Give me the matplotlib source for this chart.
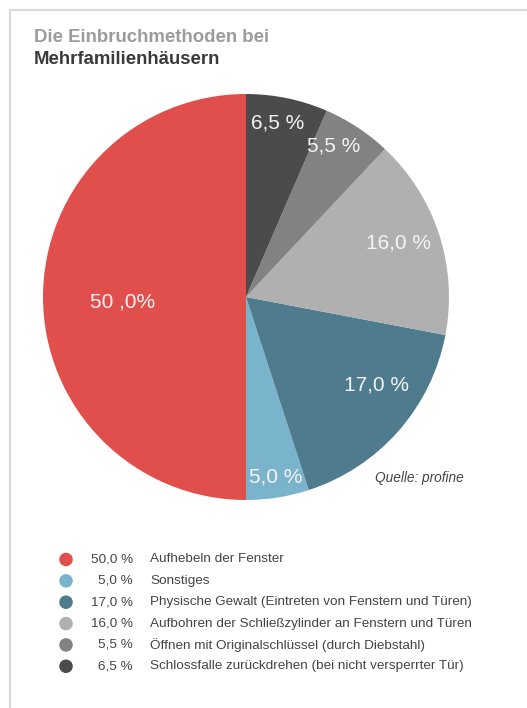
import numpy as np
import matplotlib.pyplot as plt

plt.rcParams['font.family'] = ['Liberation Sans', 'DejaVu Sans']

# Daten
werte = [50.0, 5.0, 17.0, 16.0, 5.5, 6.5]
beschriftung = ['50 ,0%', '5,0 %', '17,0 %', '16,0 %', '5,5 %', '6,5 %']
legende_pct = ['50,0 %', '5,0 %', '17,0 %', '16,0 %', '5,5 %', '6,5 %']
legende_txt = ['Aufhebeln der Fenster',
               'Sonstiges',
               'Physische Gewalt (Eintreten von Fenstern und Türen)',
               'Aufbohren der Schließzylinder an Fenstern und Türen',
               'Öffnen mit Originalschlüssel (durch Diebstahl)',
               'Schlossfalle zurückdrehen (bei nicht versperrter Tür)']
farben = ['#e04f4c', '#7ab3cc', '#4f7b8f', '#b0b0b0', '#828282', '#4b4b49']
# Lage der Beschriftungen (Radius, Winkelversatz)
label_r = [0.607, 0.899, 0.777, 0.795, 0.86, 0.871]
label_dw = [2.3, 0.5, 7.5, 1.6, 3.2, 1.3]

W, H = 527, 708
fig = plt.figure(figsize=(W / 100, H / 100), dpi=100)

# Hintergrund-Achse in Pixelkoordinaten
bg = fig.add_axes([0, 0, 1, 1])
bg.set_xlim(0, W)
bg.set_ylim(H, 0)
bg.axis('off')
bg.plot([9.5, 9.5], [9.5, H], color='#d9d9d9', lw=1.5)
bg.plot([9.5, W], [9.5, 9.5], color='#d9d9d9', lw=1.5)
bg.text(34, 38, 'Die Einbruchmethoden bei', fontsize=13.4, fontweight='bold',
        color='#9b9b9b', va='center')
bg.text(34, 59, 'Mehrfamilienhäusern', fontsize=13.4, fontweight='bold',
        color='#3a3a3a', va='center')
bg.text(375, 478, 'Quelle: profine', fontsize=9.8, style='italic',
        color='#444444', va='center')

# Kreisdiagramm
cx, cy, r = 246, 297, 203
ax = fig.add_axes([(cx - r) / W, 1 - (cy + r) / H, 2 * r / W, 2 * r / H])
wedges, _ = ax.pie(werte, colors=farben, startangle=90, counterclock=True,
                   wedgeprops=dict(linewidth=0))
ax.set_xlim(-1, 1)
ax.set_ylim(-1, 1)

for w, txt, lr, dw in zip(wedges, beschriftung, label_r, label_dw):
    ang = np.deg2rad((w.theta1 + w.theta2) / 2 + dw)
    ax.text(lr * np.cos(ang), lr * np.sin(ang), txt, fontsize=15,
            color='#f4f4f4', ha='center', va='center')

# Legende
lg = fig.add_axes([0, 0, 1, 1])
lg.set_xlim(0, W)
lg.set_ylim(H, 0)
lg.axis('off')
y0, dy = 559.5, 21.35
ys = y0 + dy * np.arange(len(werte))
lg.scatter(np.full(len(werte), 66), ys, s=95, c=farben, linewidths=0)
for y, p, t in zip(ys, legende_pct, legende_txt):
    lg.text(133, y, p, fontsize=9.7, color='#444444', ha='right', va='center')
    lg.text(150, y, t, fontsize=9.7, color='#444444', ha='left', va='center')

fig.savefig('out.png', dpi=100)
